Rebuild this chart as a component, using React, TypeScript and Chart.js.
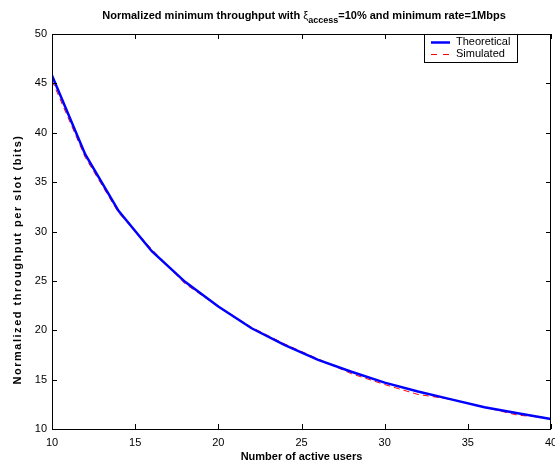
import React, { useEffect, useRef } from "react";
import { Chart, registerables } from "chart.js";

Chart.register(...registerables);

const users = [10, 12, 14, 16, 18, 20, 22, 24, 26, 28, 30, 32, 34, 36, 38, 40];
const theoretical = [45.8, 37.8, 32.1, 28.0, 24.9, 22.4, 20.2, 18.5, 17.0, 15.8, 14.7, 13.8, 13.0, 12.2, 11.6, 11.0];
const simulated = [45.3, 37.5, 31.9, 28.2, 24.7, 22.4, 20.3, 18.6, 17.1, 15.6, 14.5, 13.5, 13.0, 12.2, 11.4, 11.1];
const xTicks = [10, 15, 20, 25, 30, 35, 40];
const yTicks = [10, 15, 20, 25, 30, 35, 40, 45, 50];
const seriesNames = ["Theoretical", "Simulated"];

const FONT = "Arial, 'Liberation Sans', Helvetica, sans-serif";

const framePlugin = {
  id: "matlabFrame",
  afterDraw(chart: any) {
    const ctx = chart.ctx as CanvasRenderingContext2D;
    const { left, right, top, bottom } = chart.chartArea;
    const xs = chart.scales.x;
    const ys = chart.scales.y;
    ctx.save();
    ctx.strokeStyle = "#000";
    ctx.lineWidth = 1;
    ctx.strokeRect(Math.round(left) + 0.5, Math.round(top) + 0.5, Math.round(right - left) - 1, Math.round(bottom - top));
    const tl = 5;
    ctx.beginPath();
    xTicks.forEach((v) => {
      const px = Math.round(xs.getPixelForValue(v)) + 0.5;
      ctx.moveTo(px, bottom);
      ctx.lineTo(px, bottom - tl);
      ctx.moveTo(px, top);
      ctx.lineTo(px, top + tl);
    });
    yTicks.forEach((v) => {
      const py = Math.round(ys.getPixelForValue(v)) + 0.5;
      ctx.moveTo(left, py);
      ctx.lineTo(left + tl, py);
      ctx.moveTo(right, py);
      ctx.lineTo(right - tl, py);
    });
    ctx.stroke();
    ctx.fillStyle = "#000";
    ctx.font = `11px ${FONT}`;
    ctx.textAlign = "center";
    ctx.textBaseline = "top";
    xTicks.forEach((v) => {
      ctx.fillText(String(v), xs.getPixelForValue(v), bottom + 8);
    });
    ctx.textAlign = "right";
    ctx.textBaseline = "middle";
    yTicks.forEach((v) => {
      ctx.fillText(String(v), left - 5, ys.getPixelForValue(v));
    });
    // axis titles
    ctx.font = `bold 11px ${FONT}`;
    ctx.textAlign = "center";
    ctx.textBaseline = "alphabetic";
    ctx.fillText("Number of active users", (left + right) / 2, 460);
    const yLabel = "Normalized throughput per slot (bits)";
    const wy = ctx.measureText(yLabel).width;
    const targetY = 250;
    const ls = (targetY - wy) / yLabel.length;
    ctx.save();
    ctx.translate(21, (top + bottom) / 2 + 28);
    ctx.rotate(-Math.PI / 2);
    (ctx as any).letterSpacing = `${ls.toFixed(2)}px`;
    ctx.textAlign = "center";
    ctx.fillText(yLabel, 0, 0);
    ctx.restore();
    (ctx as any).letterSpacing = "0px";
    // title with subscript
    const p1 = "Normalized minimum throughput with ";
    const xi = "ξ";
    const sub = "access";
    const p2 = "=10% and minimum rate=1Mbps";
    ctx.textAlign = "left";
    ctx.font = `bold 11px ${FONT}`;
    const w1 = ctx.measureText(p1).width;
    const w3 = ctx.measureText(p2).width;
    ctx.font = `11px ${FONT}`;
    const w2 = ctx.measureText(xi).width;
    ctx.font = `bold 9px ${FONT}`;
    const ws = ctx.measureText(sub).width;
    const total = w1 + w2 + ws + w3;
    let x = 304 - total / 2;
    ctx.font = `bold 11px ${FONT}`;
    ctx.fillText(p1, x, 19);
    x += w1;
    ctx.font = `11px ${FONT}`;
    ctx.fillText(xi, x, 19);
    x += w2;
    ctx.font = `bold 9px ${FONT}`;
    ctx.fillText(sub, x, 23);
    x += ws;
    ctx.font = `bold 11px ${FONT}`;
    ctx.fillText(p2, x, 19);
    // legend
    const lx = 424.5, ly = Math.round(top) + 0.5, lw = 93, lh = 28;
    ctx.fillStyle = "#fff";
    ctx.fillRect(lx, ly, lw, lh);
    ctx.strokeStyle = "#000";
    ctx.lineWidth = 1;
    ctx.strokeRect(lx, ly, lw, lh);
    ctx.strokeStyle = "#0000ff";
    ctx.lineWidth = 2.5;
    ctx.beginPath();
    ctx.moveTo(431, 42.5);
    ctx.lineTo(450, 42.5);
    ctx.stroke();
    ctx.strokeStyle = "#ff0000";
    ctx.lineWidth = 1;
    ctx.setLineDash([6, 6]);
    ctx.beginPath();
    ctx.moveTo(431, 54.5);
    ctx.lineTo(450, 54.5);
    ctx.stroke();
    ctx.setLineDash([]);
    ctx.fillStyle = "#000";
    ctx.font = `11px ${FONT}`;
    ctx.textBaseline = "middle";
    ctx.fillText(seriesNames[0], 456, 42);
    ctx.fillText(seriesNames[1], 456, 54);
    ctx.restore();
  },
};

export default function App() {
  const ref = useRef<HTMLCanvasElement | null>(null);
  useEffect(() => {
    if (!ref.current) return;
    const chart = new Chart(ref.current, {
      type: "line",
      data: {
        datasets: [
          {
            label: seriesNames[0],
            data: users.map((u, i) => ({ x: u, y: theoretical[i] })),
            borderColor: "#0000ff",
            borderWidth: 2.5,
            pointRadius: 0,
            tension: 0,
            fill: false,
          },
          {
            label: seriesNames[1],
            data: users.map((u, i) => ({ x: u, y: simulated[i] })),
            borderColor: "#ff0000",
            borderWidth: 1,
            borderDash: [6, 4],
            pointRadius: 0,
            tension: 0,
            fill: false,
          },
        ],
      },
      options: {
        animation: false,
        responsive: false,
        devicePixelRatio: 1,
        layout: { padding: { left: 52, right: 4, top: 34, bottom: 35 } },
        plugins: { legend: { display: false }, tooltip: { enabled: false }, title: { display: false } },
        scales: {
          x: {
            type: "linear",
            min: 10,
            max: 40,
            ticks: { display: false, stepSize: 5 },
            grid: { display: false, drawTicks: false },
            border: { display: false },
          },
          y: {
            type: "linear",
            min: 10,
            max: 50,
            ticks: { display: false, stepSize: 5 },
            grid: { display: false, drawTicks: false },
            border: { display: false },
          },
        },
      },
      plugins: [framePlugin],
    });
    return () => chart.destroy();
  }, []);
  return (
    <div style={{ position: "fixed", left: 0, top: 0, width: 555, height: 464, background: "#fff" }}>
      <canvas ref={ref} width={555} height={464} />
    </div>
  );
}
